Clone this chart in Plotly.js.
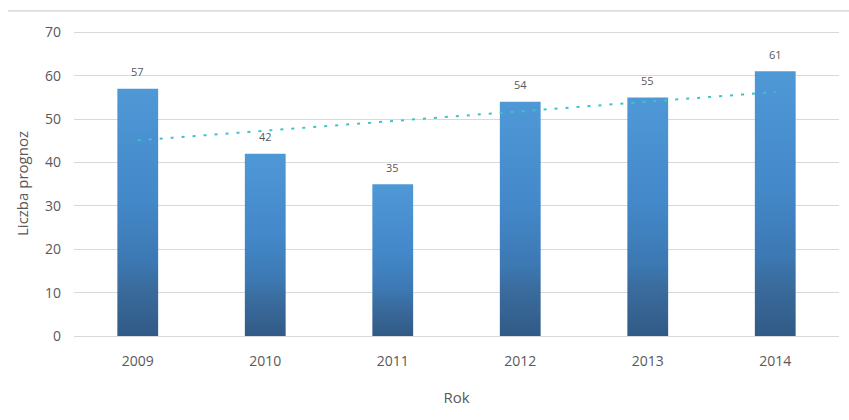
<!DOCTYPE html>
<html>
<head>
<meta charset="utf-8">
<script src="https://cdn.plot.ly/plotly-3.0.1.min.js"></script>
<style>
html,body{margin:0;padding:0;background:#fff;}
#chart{width:849px;height:420px;}
</style>
</head>
<body>
<div id="chart"></div>
<script>
// Data
var years = ['2009', '2010', '2011', '2012', '2013', '2014'];
var forecasts = [57, 42, 35, 54, 55, 61];
var yTicks = [0, 10, 20, 30, 40, 50, 60, 70];

// Linear trendline (least squares) from the data
function linearTrend(vals) {
  var n = vals.length, sx = 0, sy = 0, sxx = 0, sxy = 0;
  for (var i = 0; i < n; i++) { var x = i + 1; sx += x; sy += vals[i]; sxx += x * x; sxy += x * vals[i]; }
  var b = (n * sxy - sx * sy) / (n * sxx - sx * sx);
  var a = (sy - b * sx) / n;
  return vals.map(function (_, i) { return a + b * (i + 1); });
}
var trend = linearTrend(forecasts);

var font = '"Open Sans", "Liberation Sans", sans-serif';

var traces = [
  {
    type: 'bar', x: years, y: forecasts, width: 0.32,
    marker: { color: '#4286C7', line: { width: 0 } },
    hoverinfo: 'x+y', showlegend: false
  },
  {
    type: 'scatter', mode: 'lines', x: years, y: trend,
    line: { color: '#3CC3C8', width: 2, dash: '3px,8px' },
    hoverinfo: 'skip', showlegend: false
  }
];

var annotations = years.map(function (yr, i) {
  return {
    x: i, y: forecasts[i], xref: 'x', yref: 'y', text: String(forecasts[i]),
    showarrow: false, yanchor: 'middle', yshift: 17,
    font: { family: font, size: 11, color: '#595959' }
  };
});

var layout = {
  width: 849, height: 420,
  margin: { l: 74, r: 10, t: 31, b: 84 },
  paper_bgcolor: '#ffffff', plot_bgcolor: '#ffffff',
  font: { family: font, color: '#595959', size: 14 },
  showlegend: false,
  xaxis: {
    type: 'category', categoryorder: 'array', categoryarray: years,
    range: [-0.5, 5.5], autorange: false,
    showgrid: false, showline: false, zeroline: false, ticks: '',
    tickfont: { family: font, size: 14, color: '#595959' },
    ticklabelstandoff: 15,
    title: { text: 'Rok', font: { family: font, size: 15, color: '#595959' }, standoff: 23 }
  },
  yaxis: {
    range: [0, 70.3], autorange: false, tickvals: yTicks, ticktext: yTicks.map(String),
    showgrid: true, gridcolor: '#D9D9D9', gridwidth: 1,
    zeroline: true, zerolinecolor: '#D9D9D9', zerolinewidth: 1,
    showline: false, ticks: '',
    tickfont: { family: font, size: 14, color: '#595959' },
    ticklabelstandoff: 12,
    title: { text: 'Liczba prognoz', font: { family: font, size: 15, color: '#595959' }, standoff: 12 }
  },
  annotations: annotations,
  shapes: [{
    type: 'line', xref: 'paper', yref: 'paper',
    x0: -0.0863, x1: 1.02, y0: 1.066, y1: 1.066,
    line: { color: '#D0D0D0', width: 1.2 }
  }]
};

function applyGradient(gd) {
  var svg = gd.querySelector('svg.main-svg');
  if (!svg) return;
  var ns = 'http://www.w3.org/2000/svg';
  if (!document.getElementById('barGrad')) {
    var defs = svg.querySelector('defs') || svg.insertBefore(document.createElementNS(ns, 'defs'), svg.firstChild);
    var lg = document.createElementNS(ns, 'linearGradient');
    lg.setAttribute('id', 'barGrad');
    lg.setAttribute('x1', '0'); lg.setAttribute('y1', '0');
    lg.setAttribute('x2', '0'); lg.setAttribute('y2', '1');
    [['0', '#4F98D6'], ['0.45', '#4388C9'], ['0.7', '#3C78B2'], ['0.8', '#3A6C9E'], ['1', '#315A86']].forEach(function (s) {
      var st = document.createElementNS(ns, 'stop');
      st.setAttribute('offset', s[0]); st.setAttribute('stop-color', s[1]);
      lg.appendChild(st);
    });
    defs.appendChild(lg);
  }
  gd.querySelectorAll('.barlayer .point path').forEach(function (p) {
    p.style.fill = 'url(#barGrad)';
  });
}

var gd = document.getElementById('chart');
Plotly.newPlot(gd, traces, layout, { displayModeBar: false, staticPlot: true }).then(function () {
  applyGradient(gd);
  gd.on('plotly_afterplot', function () { applyGradient(gd); });
});
</script>
</body>
</html>
